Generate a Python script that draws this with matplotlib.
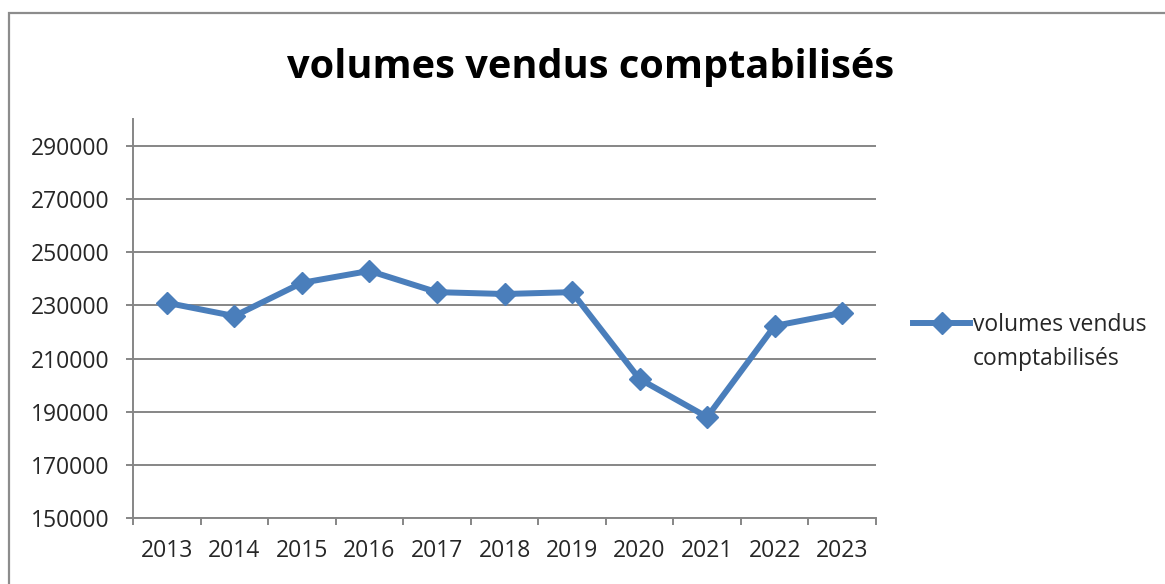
import matplotlib
matplotlib.use("Agg")
import matplotlib.pyplot as plt
from matplotlib.patches import Rectangle

# data
years = ["2013", "2014", "2015", "2016", "2017", "2018", "2019", "2020", "2021", "2022", "2023"]
volumes = [231000, 226000, 238500, 243000, 235000, 234300, 235000, 202300, 188000, 222300, 227200]
series_name = "volumes vendus comptabilisés"
y_ticks = [150000, 170000, 190000, 210000, 230000, 250000, 270000, 290000]

plt.rcParams['font.family'] = ['Open Sans', 'DejaVu Sans']

blue = '#4a7ebb'
grey = '#868686'
text_col = '#262626'

fig = plt.figure(figsize=(11.65, 5.84), dpi=100)
ax = fig.add_axes([0.1142, 0.1130, 0.6377, 0.6825])

# outer chart frame (runs off the right and bottom edges)
fig.patches.append(Rectangle((9 / 1165, -0.1), 1.2, 1 - 13 / 584 + 0.1,
                             transform=fig.transFigure, fill=False,
                             edgecolor='#8c8c8c', linewidth=1.6))

x = list(range(len(years)))
line, = ax.plot(x, volumes, color=blue, linewidth=4.3, marker='D',
                markersize=11, markeredgecolor=blue, solid_joinstyle='round')

ax.set_xlim(-0.5, len(years) - 0.5)
ax.set_ylim(150000, 300000)
ax.set_yticks(y_ticks)
ax.set_yticklabels([str(v) for v in y_ticks])
ax.yaxis.grid(True, color=grey, linewidth=1.4)
ax.set_axisbelow(True)

# category labels centered, tick marks between categories
ax.set_xticks(x)
ax.set_xticklabels(years)
ax.set_xticks([i - 0.5 for i in range(len(years) + 1)], minor=True)
ax.tick_params(axis='x', which='major', length=0, pad=15, labelsize=16.5, colors=text_col)
ax.tick_params(axis='x', which='minor', length=5, width=1.4, color=grey, direction='out')
ax.tick_params(axis='y', length=5, width=1.4, color=grey, labelsize=16.5,
               labelcolor=text_col, pad=12)

for side in ['top', 'right']:
    ax.spines[side].set_visible(False)
for side in ['left', 'bottom']:
    ax.spines[side].set_color(grey)
    ax.spines[side].set_linewidth(1.4)

fig.text(0.507, 0.885, series_name, ha='center', va='center',
         fontsize=28.6, fontweight='bold', color='black')

# legend: handle on first line, second line as separate text
leg = fig.legend([line], ["volumes vendus"], loc='center left',
                 bbox_to_anchor=(0.7837, 0.4435), frameon=False, fontsize=16.5,
                 borderpad=0, borderaxespad=0,
                 handlelength=2.5, handletextpad=0.13, labelcolor=text_col)
fig.text(0.8352, 0.3853, "comptabilisés", ha='left', va='center',
         fontsize=16.5, color=text_col)

fig.savefig("out.png", dpi=100)
